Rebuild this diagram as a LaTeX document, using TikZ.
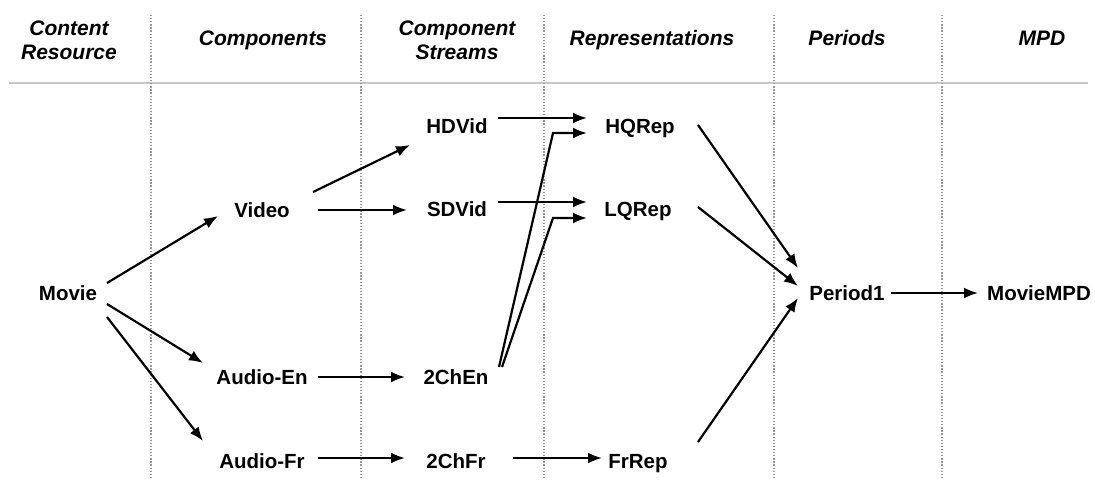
\documentclass[tikz,border=0pt]{standalone}
\usepackage{fontspec}
\setmainfont{Liberation Sans}
\usetikzlibrary{arrows.meta}
\begin{document}
\begin{tikzpicture}[x=1pt,y=-1pt,
  lbl/.style={font=\fontsize{20.5}{24}\selectfont\bfseries, inner sep=0pt, text height=14.7pt, text depth=0pt},
  hdr/.style={font=\fontsize{21}{24}\selectfont\bfseries\itshape, inner sep=0pt, align=center},
  hdrone/.style={hdr, text height=15pt, text depth=0pt},
  conn/.style={line width=2.2pt, -{Latex[length=14pt,width=11pt]}},
  sep/.style={draw=black!40, line width=1.3pt, dash pattern=on 1.3pt off 1.8pt},
  rule/.style={draw=black!22, line width=2.5pt}]
\useasboundingbox (0,0) rectangle (1095,489);

% header rule and column separators
\coordinate (rl) at (9,83);
\coordinate (rr) at (1088,83);
\draw[rule] (rl) -- (rr);
\foreach \xx/\nm in {151/a,361/b,544/c,774/d,942/e}{
  \coordinate (t\nm) at (\xx,15);
  \coordinate (b\nm) at (\xx,478);
  \draw[sep] (t\nm) -- (b\nm);
}

% headers
\node[hdr] (h1) at (69,40) {Content\\Resource};
\node[hdrone] (h2) at (263,38) {Components};
\node[hdr] (h3) at (457,40) {Component\\Streams};
\node[hdrone] (h4) at (652,38) {Representations};
\node[hdrone] (h5) at (847,38) {Periods};
\node[hdrone] (h6) at (1042,38) {MPD};

% nodes
\node[lbl] (movie) at (68,293) {Movie};
\node[lbl] (video) at (262,210) {Video};
\node[lbl] (aen) at (262,377) {Audio-En};
\node[lbl] (afr) at (262,461) {Audio-Fr};
\node[lbl] (hd) at (457,126) {HDVid};
\node[lbl] (sd) at (457,209) {SDVid};
\node[lbl] (chen) at (456,377) {2ChEn};
\node[lbl] (chfr) at (456,461) {2ChFr};
\node[lbl] (hq) at (640,126) {HQRep};
\node[lbl] (lq) at (638,209) {LQRep};
\node[lbl] (fr) at (638,461) {FrRep};
\node[lbl] (p1) at (847,293) {Period1};
\node[lbl] (mpd) at (1039,293) {MovieMPD};

% connectors
\draw[conn] ([shift={(39,-10)}]movie.center) -- ([shift={(-44,6)}]video.center);
\draw[conn] ([shift={(39,11)}]movie.center) -- ([shift={(-59,-14)}]aen.center);
\draw[conn] ([shift={(39,24)}]movie.center) -- ([shift={(-59,-20)}]afr.center);

\draw[conn] ([shift={(51,-18)}]video.center) -- ([shift={(-47,19)}]hd.center);
\draw[conn] ([shift={(56,0)}]video.center) -- ([shift={(-50,1)}]sd.center);
\draw[conn] ([shift={(56,0)}]aen.center) -- ([shift={(-51,0)}]chen.center);
\draw[conn] ([shift={(56,-3)}]afr.center) -- ([shift={(-51,-3)}]chfr.center);

\draw[conn] ([shift={(41,-8)}]hd.center) -- ([shift={(-53,-8)}]hq.center);
\draw[conn] ([shift={(41,-7)}]sd.center) -- ([shift={(-51,-7)}]lq.center);
\draw[conn] ([shift={(43,-10)}]chen.center) -- ([shift={(-87,7)}]hq.center) -- ([shift={(-53,7)}]hq.center);
\draw[conn] ([shift={(46,-10)}]chen.center) -- ([shift={(-85,9)}]lq.center) -- ([shift={(-51,9)}]lq.center);
\draw[conn] ([shift={(57,-3)}]chfr.center) -- ([shift={(-36,-3)}]fr.center);

\draw[conn] ([shift={(58,-1)}]hq.center) -- ([shift={(-49,-25)}]p1.center);
\draw[conn] ([shift={(60,-2)}]lq.center) -- ([shift={(-49,-7)}]p1.center);
\draw[conn] ([shift={(60,-19)}]fr.center) -- ([shift={(-49,5)}]p1.center);
\draw[conn] ([shift={(44,0)}]p1.center) -- ([shift={(-61,0)}]mpd.center);
\end{tikzpicture}
\end{document}
